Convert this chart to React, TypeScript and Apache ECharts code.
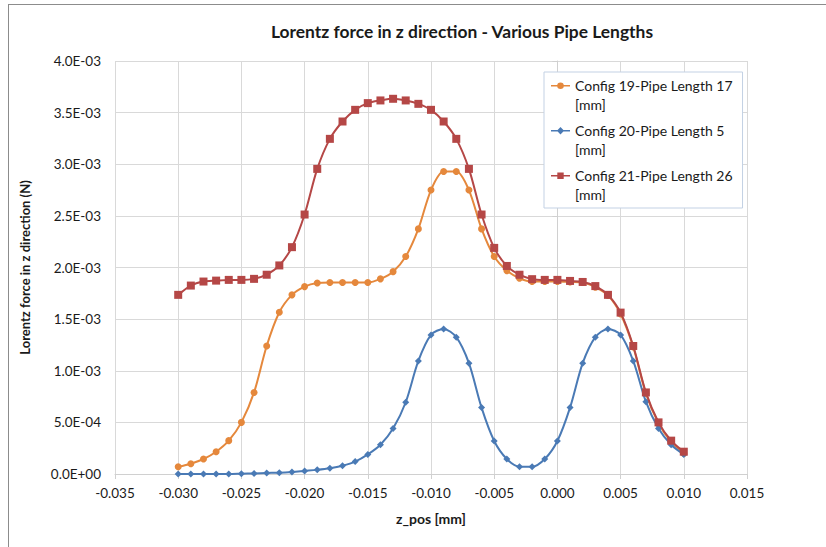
import React, { useEffect, useRef } from "react";
import * as echarts from "echarts";

const zPos = [
  -0.030, -0.029, -0.028, -0.027, -0.026, -0.025, -0.024, -0.023, -0.022, -0.021,
  -0.020, -0.019, -0.018, -0.017, -0.016, -0.015, -0.014, -0.013, -0.012, -0.011,
  -0.010, -0.009, -0.008, -0.007, -0.006, -0.005, -0.004, -0.003, -0.002, -0.001,
  0.000, 0.001, 0.002, 0.003, 0.004, 0.005, 0.006, 0.007, 0.008, 0.009, 0.010,
];

// values in units of 1E-03 N
const config19 = [
  0.07, 0.10, 0.145, 0.216, 0.323, 0.50, 0.79, 1.24, 1.567, 1.735,
  1.815, 1.85, 1.855, 1.855, 1.855, 1.855, 1.89, 1.96, 2.106, 2.374,
  2.75, 2.93, 2.93, 2.75, 2.374, 2.106, 1.97, 1.896, 1.864, 1.864,
  1.864, 1.86, 1.855, 1.81, 1.73, 1.55, 1.23, 0.78, 0.49, 0.31, 0.20,
];
const config20 = [
  0.0, 0.0, 0.0, 0.0, 0.0, 0.003, 0.006, 0.01, 0.013, 0.02,
  0.03, 0.04, 0.055, 0.08, 0.12, 0.19, 0.284, 0.44, 0.695, 1.095,
  1.347, 1.405, 1.325, 1.073, 0.643, 0.32, 0.145, 0.071, 0.071, 0.145,
  0.32, 0.643, 1.073, 1.325, 1.405, 1.347, 1.095, 0.70, 0.44, 0.284, 0.19,
];
const config21 = [
  1.735, 1.825, 1.864, 1.873, 1.88, 1.88, 1.89, 1.93, 2.02, 2.197,
  2.513, 2.955, 3.246, 3.414, 3.527, 3.592, 3.618, 3.634, 3.618, 3.585,
  3.527, 3.414, 3.246, 2.955, 2.513, 2.19, 2.015, 1.93, 1.887, 1.88,
  1.88, 1.87, 1.86, 1.82, 1.735, 1.563, 1.24, 0.79, 0.50, 0.323, 0.216,
];

const seriesNames = [
  "Config 19-Pipe Length 17\n[mm]",
  "Config 20-Pipe Length 5\n[mm]",
  "Config 21-Pipe Length 26\n[mm]",
];
const seriesColors = ["#E5883C", "#4A7AB5", "#B54746"];
const seriesSymbols = ["circle", "diamond", "rect"];
const seriesSymbolSizes = [7, 7, 8];
const seriesValues = [config19, config20, config21];

const title = "Lorentz force in z direction - Various Pipe Lengths";
const xName = "z_pos [mm]";
const yName = "Lorentz force in z direction (N)";

const FONT = "Lato, 'Open Sans', sans-serif";

// legend icons: line + marker placed at the first text line (box 19 x 37)
const ANCHOR = "M0,0 L0,0 Z M19,37 L19,37 Z ";
const LINE = "M0,8.4 H19 V10.1 H0 Z ";
const legendIcons = [
  "path://" + ANCHOR + LINE + "M12.8,9.25 A3.3,3.3 0 1,1 6.2,9.25 A3.3,3.3 0 1,1 12.8,9.25 Z",
  "path://" + ANCHOR + LINE + "M9.5,5.6 L13.1,9.25 L9.5,12.9 L5.9,9.25 Z",
  "path://" + ANCHOR + LINE + "M6.3,6.05 H12.7 V12.45 H6.3 Z",
];

function expLabel(v: number): string {
  if (Math.abs(v) < 1e-12) return "0.0E+00";
  const s = v.toExponential(1);
  const [m, e] = s.split("e");
  const sign = e[0] === "-" ? "-" : "+";
  const digits = e.replace(/^[+-]/, "").padStart(2, "0");
  return `${m}E${sign}${digits}`;
}

export default function App() {
  const ref = useRef<HTMLDivElement>(null);
  useEffect(() => {
    if (!ref.current) return;
    const chart = echarts.init(ref.current, undefined, { renderer: "svg" });
    chart.setOption({
      animation: false,
      backgroundColor: "#ffffff",
      title: {
        text: title,
        left: 457,
        top: 18,
        textAlign: "center",
        textStyle: { fontFamily: FONT, fontSize: 17.4, fontWeight: "bold", color: "#1a1a1a" },
      },
      grid: { left: 115, right: 79, top: 61, bottom: 73 },
      legend: {
        orient: "vertical",
        left: 544,
        top: 72,
        width: 198,
        padding: [4, 10, 4, 7],
        itemGap: 7,
        itemWidth: 19,
        itemHeight: 38,
        backgroundColor: "#ffffff",
        borderColor: "#C3D1E4",
        borderWidth: 1,
        borderRadius: 0,
        textStyle: { fontFamily: FONT, fontSize: 14, color: "#1a1a1a", lineHeight: 19 },
        data: seriesNames.map((name, i) => ({ name, icon: legendIcons[i] })),
      },
      xAxis: {
        type: "value",
        min: -0.035,
        max: 0.015,
        interval: 0.005,
        name: xName,
        nameLocation: "middle",
        nameGap: 37,
        nameTextStyle: { fontFamily: FONT, fontSize: 14, fontWeight: "bold", color: "#1a1a1a" },
        axisLine: { show: true, onZero: false, lineStyle: { color: "#D0D0D0" } },
        axisTick: { show: true, length: 5, lineStyle: { color: "#D0D0D0" } },
        splitLine: { show: true, lineStyle: { color: "#D9D9D9" } },
        axisLabel: {
          fontFamily: FONT,
          fontSize: 13.5,
          color: "#1a1a1a",
          margin: 12,
          formatter: (v: number) => (Math.abs(v) < 1e-12 ? "0.000" : v.toFixed(3)),
        },
      },
      yAxis: {
        type: "value",
        min: 0,
        max: 0.004,
        interval: 0.0005,
        name: yName,
        nameLocation: "middle",
        nameGap: 84,
        nameTextStyle: { fontFamily: FONT, fontSize: 13, fontWeight: "bold", color: "#1a1a1a" },
        axisLine: { show: true, lineStyle: { color: "#D0D0D0" } },
        axisTick: { show: true, length: 5, lineStyle: { color: "#D0D0D0" } },
        splitLine: { show: true, lineStyle: { color: "#D9D9D9" } },
        axisLabel: {
          fontFamily: FONT,
          fontSize: 13.5,
          color: "#1a1a1a",
          margin: 14,
          formatter: (v: number) => expLabel(v),
        },
      },
      series: seriesNames.map((name, i) => ({
        name,
        type: "line",
        smooth: 0.3,
        data: zPos.map((x, j) => [x, seriesValues[i][j] * 1e-3]),
        symbol: seriesSymbols[i],
        symbolSize: seriesSymbolSizes[i],
        itemStyle: { color: seriesColors[i] },
        lineStyle: { color: seriesColors[i], width: 2 },
        z: i === 1 ? 3 : i === 0 ? 2 : 4,
      })),
      graphic: [
        { type: "line", shape: { x1: 8, y1: 4.5, x2: 826, y2: 4.5 }, style: { stroke: "#8C8C8C", lineWidth: 1 } },
        { type: "line", shape: { x1: 8.5, y1: 4, x2: 8.5, y2: 547 }, style: { stroke: "#8C8C8C", lineWidth: 1 } },
      ],
    });
    return () => chart.dispose();
  }, []);
  return (
    <div
      ref={ref}
      style={{ position: "fixed", left: 0, top: 0, width: 826, height: 547 }}
    />
  );
}
